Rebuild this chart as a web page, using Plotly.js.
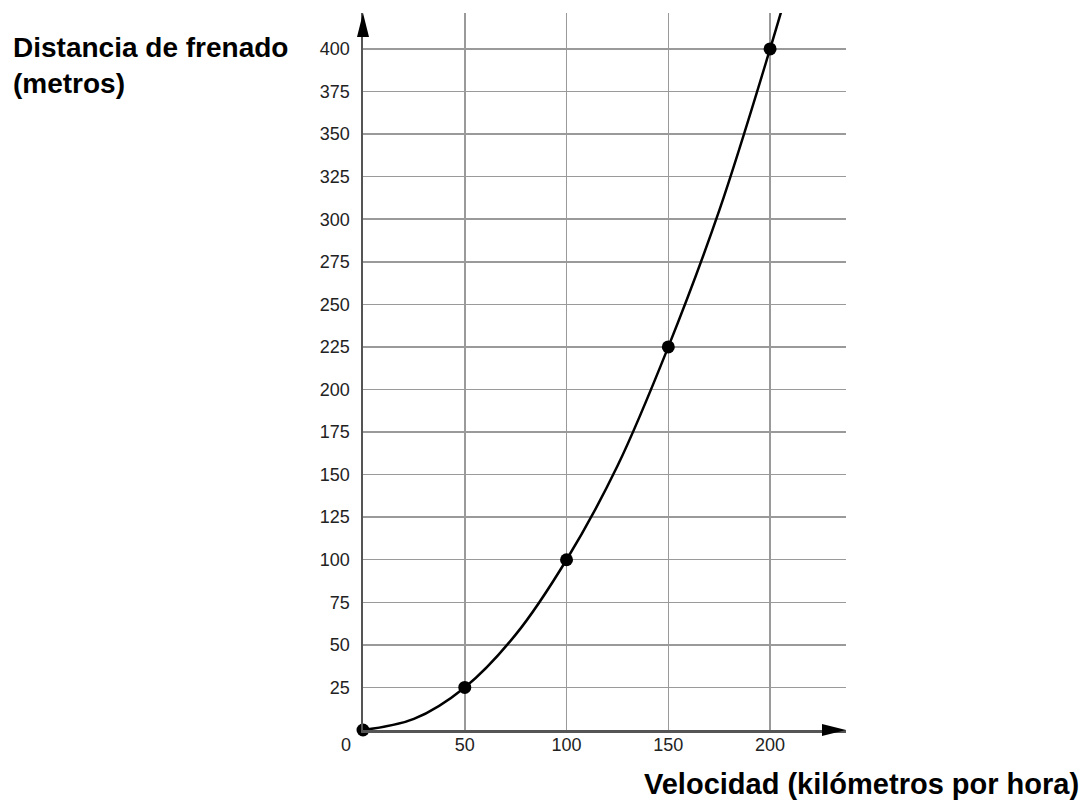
<!DOCTYPE html>
<html>
<head>
<meta charset="utf-8">
<script src="https://cdn.plot.ly/plotly-3.0.1.min.js"></script>
<style>html,body{margin:0;padding:0;background:#fff;}#chart{width:1080px;height:800px;}</style>
</head>
<body>
<div id="chart"></div>
<script>
// Data
const speed = [0, 50, 100, 150, 200];            // km/h (marked points)
const distance = [0, 25, 100, 225, 400];         // metres
// points (continues past the top edge)
const curveSpeed = [0, 25, 50, 75, 100, 125, 150, 175, 200, 212];
const curveDistance = [0, 6.5, 25, 56, 100, 155, 225, 305, 400, 449];
const xTickVals = [50, 100, 150, 200];
const yTickVals = [25, 50, 75, 100, 125, 150, 175, 200, 225, 250, 275, 300, 325, 350, 375, 400];
const yTitle = "Distancia de frenado<br>(metros)";
const xTitle = "Velocidad (kilómetros por hora)";

const xMax = 237.3;
const yMax = 421.1;
const fontFam = "Liberation Sans, Arial, Helvetica, sans-serif";

const traces = [
  {x: curveSpeed, y: curveDistance, mode: 'lines', type: 'scatter',
   line: {shape: 'spline', smoothing: 1, color: '#000', width: 2.5},
   hoverinfo: 'skip', showlegend: false, cliponaxis: true},
  {x: speed, y: distance, mode: 'markers', type: 'scatter',
   marker: {size: 13, color: '#000'}, showlegend: false, cliponaxis: false}
];

const layout = {
  width: 1080, height: 800,
  margin: {l: 363, r: 234, t: 13, b: 70, pad: 0},
  paper_bgcolor: '#fff', plot_bgcolor: '#fff',
  font: {family: fontFam, color: '#222', size: 18},
  showlegend: false,
  xaxis: {
    range: [0, xMax], tickvals: xTickVals, ticktext: xTickVals.map(String),
    showgrid: true, gridcolor: '#9a9a9a', gridwidth: 1.5,
    zeroline: false, showline: true, linecolor: '#555', linewidth: 2.5,
    ticks: '', ticklabelstandoff: -3,
    tickfont: {family: fontFam, size: 18, color: '#222'}, fixedrange: true
  },
  yaxis: {
    range: [0, yMax], tickvals: yTickVals, ticktext: yTickVals.map(String),
    showgrid: true, gridcolor: '#9a9a9a', gridwidth: 1.5,
    zeroline: false, showline: true, linecolor: '#555', linewidth: 2.5,
    ticks: 'outside', ticklen: 7, tickcolor: 'rgba(0,0,0,0)',
    tickfont: {family: fontFam, size: 18, color: '#222'}, fixedrange: true
  },
  shapes: [
    {type: 'path', xref: 'paper', yref: 'paper', xsizemode: 'pixel', ysizemode: 'pixel',
     xanchor: 1, yanchor: 0, path: 'M-24,-6 L0,0 L-24,6 Z',
     fillcolor: '#000', line: {width: 0}},
    {type: 'path', xref: 'paper', yref: 'paper', xsizemode: 'pixel', ysizemode: 'pixel',
     xanchor: 0, yanchor: 1, path: 'M-6,-24 L0,0 L6,-24 Z',
     fillcolor: '#000', line: {width: 0}}
  ],
  annotations: [
    {text: '0', xref: 'x', yref: 'y', x: 0, y: 0, xanchor: 'center', yanchor: 'middle',
     xshift: -17, yshift: -15, showarrow: false,
     font: {family: fontFam, size: 18, color: '#222'}},
    {text: '<b>' + yTitle + '</b>', xref: 'paper', yref: 'paper',
     x: (11 - 363) / 483, y: (730 - 65.5) / 717, xanchor: 'left', yanchor: 'middle',
     align: 'left', showarrow: false,
     font: {family: fontFam, size: 28, color: '#000'}},
    {text: '<b>' + xTitle + '</b>', xref: 'paper', yref: 'paper',
     x: (861 - 363) / 483, y: (730 - 784) / 717, xanchor: 'center', yanchor: 'middle',
     showarrow: false,
     font: {family: fontFam, size: 29, color: '#000'}}
  ]
};

Plotly.newPlot('chart', traces, layout, {staticPlot: true, displayModeBar: false});
</script>
</body>
</html>
